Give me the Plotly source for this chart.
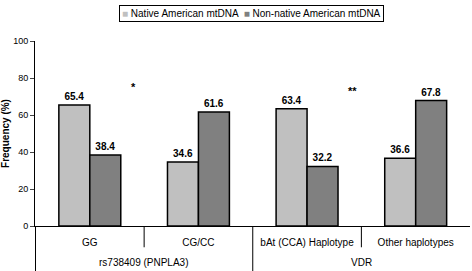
import plotly.graph_objects as go

groups = ["rs738409 (PNPLA3)", "rs738409 (PNPLA3)", "VDR", "VDR"]
categories = ["GG", "CG/CC", "bAt (CCA) Haplotype", "Other haplotypes"]
native = [65.4, 34.6, 63.4, 36.6]
non_native = [38.4, 61.6, 32.2, 67.8]
series_names = ["Native American mtDNA", "Non-native American mtDNA"]
series_colors = ["#c0c0c0", "#808080"]
y_ticks = [0, 20, 40, 60, 80, 100]
star_labels = ["*", "**"]
star_x = [0.4, 2.42]
star_y = [75, 73]

FONT = "Liberation Sans, Arial, sans-serif"

fig = go.Figure()
for name, vals, col in zip(series_names, [native, non_native], series_colors):
    fig.add_trace(go.Bar(
        x=categories, y=vals, name=name,
        marker=dict(color=col, line=dict(color="black", width=1.5)),
        text=[f"{v:.1f}" for v in vals], textposition="outside",
        textfont=dict(family=FONT, size=10, color="black"),
        texttemplate="<b>%{text}</b>", cliponaxis=False,
    ))

for s, xv, yv in zip(star_labels, star_x, star_y):
    fig.add_annotation(x=xv, y=yv, text=f"<b>{s}</b>", showarrow=False,
                       font=dict(family=FONT, size=11, color="black"))

# group labels and separators below the category labels
unique_groups = list(dict.fromkeys(groups))
for g in unique_groups:
    idx = [i for i, gg in enumerate(groups) if gg == g]
    start, end = idx[0] - 0.5, idx[-1] + 0.5
    fig.add_annotation(x=(start + end) / 2, xref="x", y=-0.195, yref="paper",
                       yanchor="middle", showarrow=False, text=g,
                       font=dict(family=FONT, size=10, color="black"))
    fig.add_shape(type="line", xref="x", yref="paper", x0=start, x1=start,
                  y0=0, y1=-0.3, line=dict(color="black", width=1))
    for i in idx[:-1]:
        fig.add_shape(type="line", xref="x", yref="paper", x0=i + 0.5, x1=i + 0.5,
                      y0=0, y1=-0.115, line=dict(color="black", width=1))

# legend drawn as a boxed text line
legend_text = "  ".join(
    f"<span style='color:{c}'>■</span> {n}" for n, c in zip(series_names, series_colors)
)
fig.add_annotation(xref="paper", yref="paper", x=0.4966, y=1.151,
                   xanchor="center", yanchor="middle", showarrow=False,
                   text=legend_text, font=dict(family=FONT, size=10, color="black"),
                   bordercolor="black", borderwidth=1, borderpad=2, bgcolor="white")

fig.update_layout(
    width=472, height=271,
    margin=dict(l=35, r=2, t=41, b=45, autoexpand=False),
    paper_bgcolor="white", plot_bgcolor="white",
    bargap=0.43, bargroupgap=0,
    font=dict(family=FONT, size=10, color="black"),
    showlegend=False,
    yaxis=dict(range=[0, 100], tickvals=y_ticks, ticks="outside", ticklen=4,
               showline=True, linecolor="black", linewidth=1, showgrid=False,
               zeroline=False, automargin=False,
               title=dict(text="<b>Frequency (%)</b>", font=dict(family=FONT, size=10), standoff=8),
               tickfont=dict(family=FONT, size=9)),
    xaxis=dict(type="category", showline=True, linecolor="black", linewidth=1,
               ticks="", tickangle=0, ticklabelstandoff=7,
               automargin=False, tickfont=dict(family=FONT, size=10), showgrid=False),
)

fig.write_html("out.html", config={"displayModeBar": False},
               post_script="document.body.style.margin='0';")
